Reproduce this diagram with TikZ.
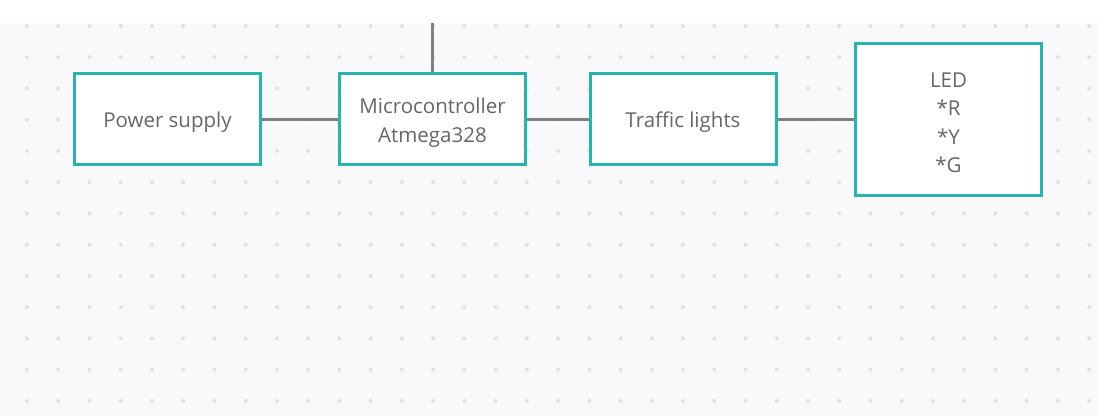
\documentclass[tikz,border=0pt]{standalone}
\usepackage{fontspec}
\setmainfont{Open Sans}
\usetikzlibrary{positioning}

\definecolor{teal}{RGB}{40,180,174}
\definecolor{wire}{RGB}{128,128,128}
\definecolor{ink}{RGB}{102,102,102}
\definecolor{paper}{RGB}{249,249,251}
\definecolor{griddot}{RGB}{226,226,229}

\tikzset{
  block/.style={draw=teal, line width=3pt, fill=white, rectangle,
    minimum width=186pt, minimum height=91pt},
  blocktext/.style={align=center, text=ink, font=\fontsize{20.5}{28.5}\selectfont},
  wire/.style={draw=wire, line width=3pt}
}

\begin{document}
\begin{tikzpicture}[x=1pt,y=-1pt]
        \useasboundingbox (0,0) rectangle (1107,416);
        \fill[white] (0,0) rectangle (1107,416);
        \fill[paper] (0,23) rectangle (1098,416);
        \foreach \i in {0,...,34}
            \foreach \j in {0,...,12}
                \fill[griddot] (27+31.24*\i,26+31.24*\j) circle (2pt);

        \node[block] (power) at (167.5,119) {};
        \node[block] (mcu) at (432.5,119) {};
        \node[block] (traffic) at (683,119) {};
        \node[block, minimum height=152pt] (led) at (948.5,119.5) {};
        \coordinate (top) at (432.5,23);

        \node[blocktext] (power text) at ([yshift=-3.5pt]power) {Power supply};
        \node[blocktext] (mcu text) at ([yshift=-3.5pt]mcu) {Microcontroller\\Atmega328};
        \node[blocktext] (traffic text) at ([yshift=-3.5pt]traffic) {Traffic lights};
        \node[blocktext] (led text) at ([yshift=-3.5pt]led) {LED\\*R\\*Y\\*G};

        \draw[wire] (power.east) -- (mcu.west);
        \draw[wire] (mcu.east) -- (traffic.west);
        \draw[wire] (traffic.east) -- (led.west |- traffic.east);
        \draw[wire] (mcu.north) -- (top);
    \end{tikzpicture}
\end{document}
